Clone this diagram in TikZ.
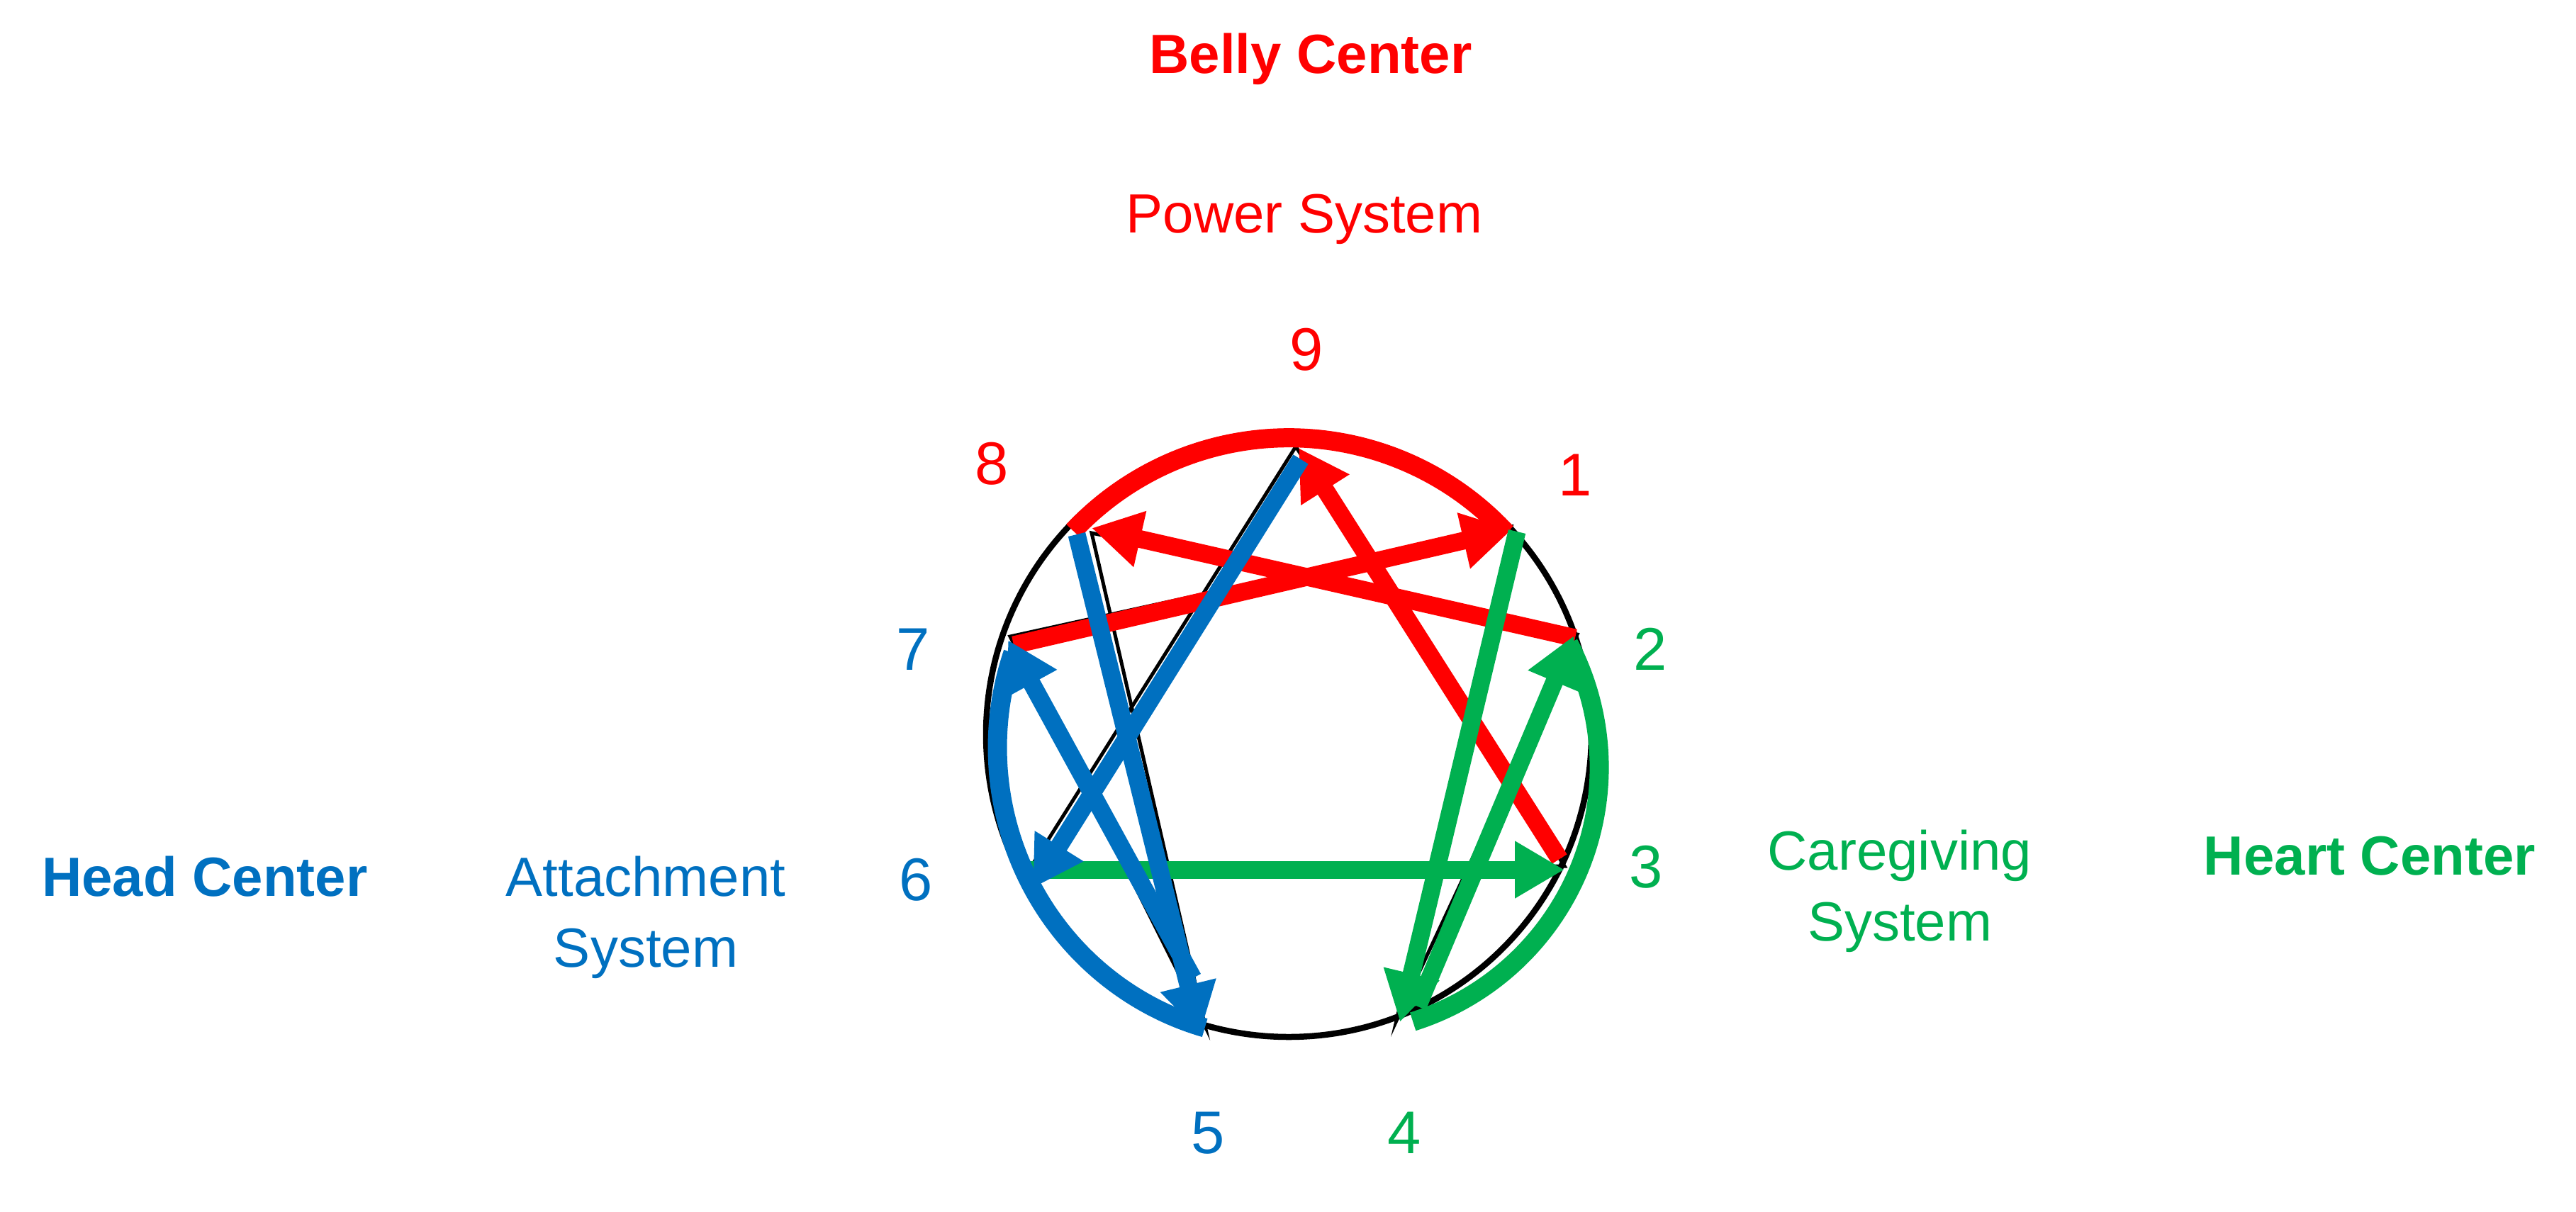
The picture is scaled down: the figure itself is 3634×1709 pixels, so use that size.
\documentclass[tikz,border=0pt]{standalone}
\usepackage{fontspec}
\setmainfont{Liberation Sans}
\usetikzlibrary{arrows.meta,calc}
\definecolor{ored}{HTML}{FF0000}
\definecolor{ogreen}{HTML}{00B050}
\definecolor{oblue}{HTML}{0070C0}
\begin{document}
\begin{tikzpicture}[x=1pt,y=-1pt,
  baseline/.style={line width=5pt, black},
  ring/.style={line width=8.5pt, black},
  fat/.style={line width=25pt, line cap=butt, line join=miter},
  arcline/.style={line width=27pt, line cap=butt},
  tip/.style={-{Triangle[length=70pt,width=76pt]}},
  lbl/.style={font=\fontsize{78}{100}\selectfont, inner sep=0pt, anchor=base, align=center},
  bl/.style={font=\bfseries\fontsize{78}{100}\selectfont, inner sep=0pt, anchor=base},
  num/.style={font=\fontsize{85}{100}\selectfont, inner sep=0pt, anchor=base},
]
\useasboundingbox (0,0) rectangle (3634,1709);
% enneagram points
\coordinate (c) at (1818,1036);
\coordinate (p9) at (1828,630);
\coordinate (p1) at (2132,743);
\coordinate (p2) at (2225,895);
\coordinate (p3) at (2207,1222);
\coordinate (p4) at (1970,1440);
\coordinate (p5) at (1700,1448);
\coordinate (p6) at (1452,1227);
\coordinate (p7) at (1425,898);
\coordinate (p8) at (1540,752);
% black base figure
\draw[ring] (c) circle[radius=427];
\draw[baseline] (p9) -- (p3) -- (p6) -- cycle;
\draw[baseline] (p1) -- (p4) -- (p2) -- (p8) -- (p5) -- (p7) -- cycle;
% red (belly)
\coordinate (ra) at (1514,749);
\coordinate (r2) at (2222,900);
\coordinate (r8) at (1540,745);
\coordinate (r7) at (1430,910);
\coordinate (r1) at (2133,747);
\coordinate (r3) at (2200,1212);
\coordinate (r9) at (1832,632);
\draw[arcline, ored] (ra) arc[start angle=-136.7, end angle=-42.8, radius=418];
\draw[fat, ored, tip] (r2) -- (r8);
\draw[fat, ored, tip] (r7) -- (r1);
\draw[fat, ored, tip] (r3) -- (r9);
% green (heart)
\coordinate (ga) at (2213,908);
\coordinate (g6) at (1445,1227);
\coordinate (g3) at (2207,1227);
\coordinate (g1) at (2140,750);
\coordinate (g4) at (1975,1442);
\coordinate (g4b) at (2000,1420);
\coordinate (g2) at (2220,897);
\draw[arcline, ogreen] (ga) arc[start angle=-27.7, end angle=72.5, radius=376];
\draw[fat, ogreen, tip] (g6) -- (g3);
\draw[fat, ogreen, tip] (g1) -- (g4);
\draw[fat, ogreen, tip] (g4b) -- (g2);
% blue (head)
\coordinate (ba) at (1429,921);
\coordinate (b9) at (1835,648);
\coordinate (b6) at (1457,1253);
\coordinate (b8) at (1519,754);
\coordinate (b5) at (1693,1458);
\coordinate (b5b) at (1683,1380);
\coordinate (b7) at (1422,903);
\draw[arcline, oblue] (ba) arc[start angle=199, end angle=105.9, x radius=403, y radius=411];
\draw[fat, oblue, tip] (b9) -- (b6);
\draw[fat, oblue, tip] (b8) -- (b5);
\draw[fat, oblue, tip] (b5b) -- (b7);
% numbers
\node[num, ored] (n9) at (1843,522) {9};
\node[num, ored] (n8) at (1399,683) {8};
\node[num, ored] (n1) at (2222,699) {1};
\node[num, oblue] (n7) at (1288,945) {7};
\node[num, ogreen] (n2) at (2328,945) {2};
\node[num, oblue] (n6) at (1292,1270) {6};
\node[num, ogreen] (n3) at (2322,1252) {3};
\node[num, oblue] (n5) at (1704,1627) {5};
\node[num, ogreen] (n4) at (1981,1627) {4};
% titles
\node[bl, ored] (belly) at (1849,103) {Belly Center};
\node[lbl, ored] (power) at (1840,328) {Power System};
\node[bl, oblue] (head) at (289,1264) {Head Center};
\node[lbl, oblue] (attach) at (911,1364) {Attachment\\System};
\node[lbl, ogreen] (care) at (2680,1327) {Caregiving\\System};
\node[bl, ogreen] (heart) at (3343,1234) {Heart Center};
\end{tikzpicture}
\end{document}
